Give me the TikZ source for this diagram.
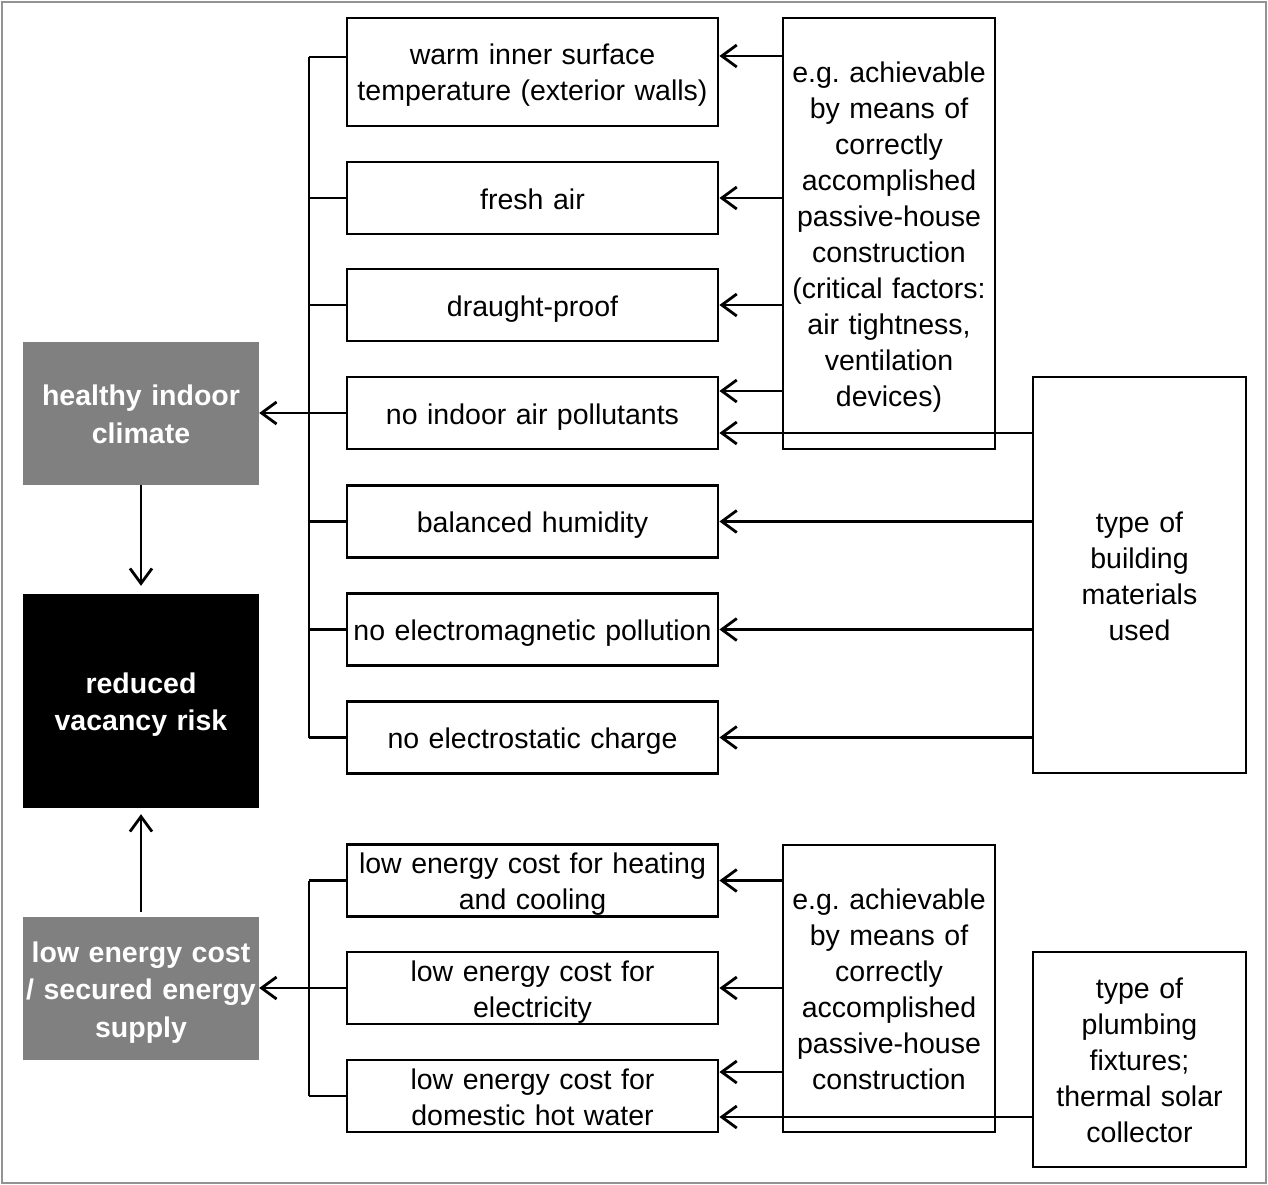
\documentclass[tikz,border=0pt]{standalone}
\usepackage{fontspec}
\setmainfont{Liberation Sans}
\frenchspacing
\usetikzlibrary{arrows.meta, positioning}

\tikzset{
    line/.style={line width=2.8pt},
    arr/.style={line, -{Straight Barb[length=15pt,width=22pt]}},
    struts/.style={execute at begin node={\rule{0pt}{28pt}}, execute at end node={\rule[-6pt]{0pt}{6pt}}},
    txt/.style={struts, font=\fontsize{28.5}{36}\selectfont},
    mid/.style={draw, line, txt, minimum width=371pt, text width=369pt, minimum height=#1, inner sep=0pt, align=center},
    side/.style={draw, line, txt, minimum width=212pt, text width=210pt, minimum height=#1, inner sep=0pt, align=center},
    goal/.style={fill=#1, text=white, struts, minimum width=236pt, text width=234pt, inner sep=0pt, align=center,
        font=\fontsize{28.5}{37.5}\selectfont\bfseries},
}

\begin{document}
\begin{tikzpicture}[x=1pt, y=-1pt]
            \useasboundingbox (0,0) rectangle (1268,1185);
            \draw[gray!85, line width=2pt] (1.5,2) rectangle (1266,1183);

            % goals on the left
            \node[goal=gray, minimum height=143pt] (healthy) at (141,413.5) {healthy indoor\\climate};
            \node[goal=black, minimum height=214pt] (reduced) at (141,701) {reduced\\vacancy risk};
            \node[goal=gray, minimum height=143pt] (cost) at (141,988.5) {low energy cost\\/ secured energy\\supply};

            % requirements
            \node[mid=108pt] (warm) at (532.5,72) {warm inner surface\\temperature (exterior walls)};
            \node[mid=72pt] (fresh) at (532.5,198) {fresh air};
            \node[mid=72pt] (draught) at (532.5,305) {draught-proof};
            \node[mid=72pt] (indoor) at (532.5,413) {no indoor air pollutants};
            \node[mid=72pt] (humid) at (532.5,521.5) {balanced humidity};
            \node[mid=72pt] (emag) at (532.5,629.5) {no electromagnetic pollution};
            \node[mid=72pt] (estat) at (532.5,737.5) {no electrostatic charge};
            \node[mid=72pt] (heat) at (532.5,880.5) {low energy cost for heating\\and cooling};
            \node[mid=72pt] (elec) at (532.5,988) {low energy cost for\\electricity};
            \node[mid=72pt] (dhw) at (532.5,1096) {low energy cost for\\domestic hot water};

            % means
            \node[side=431pt] (means) at (889,233.5) {e.g. achievable\\by means of\\correctly\\accomplished\\passive-house\\construction\\(critical factors:\\air tightness,\\ventilation\\devices)};
            \node[side=287pt] (means2) at (889,988.5) {e.g. achievable\\by means of\\correctly\\accomplished\\passive-house\\construction};
            \node[side=396pt, minimum width=213pt] (matter) at (1139.5,575) {type of\\building\\materials\\used};
            \node[side=215pt, minimum width=213pt] (plumb) at (1139.5,1059.5) {type of\\plumbing\\fixtures;\\thermal solar\\collector};

            % upper bracket
            \coordinate (spine) at (309,57);
            \draw[line] (spine) -- (spine -| warm.west);
            \foreach \n in {fresh,draught,indoor,humid,emag,estat}
                \draw[line] (\n.west) -- (\n.west -| spine);
            \draw[line] (spine) -- (spine |- estat.west);
            \draw[arr] (indoor.west) -- (indoor.west -| healthy.east);

            % lower bracket
            \foreach \n in {heat,elec,dhw}
                \draw[line] (\n.west) -- (\n.west -| spine);
            \draw[line] (spine |- heat.west) -- (spine |- dhw.west);
            \draw[arr] (elec.west) -- (elec.west -| cost.east);

            % upper inputs
            \coordinate (warmin) at ([yshift=16pt]warm.east);
            \coordinate (indhi) at ([yshift=22pt]indoor.east);
            \coordinate (indlo) at ([yshift=-20pt]indoor.east);
            \draw[arr] (warmin -| means.west) -- (warmin);
            \foreach \n in {fresh,draught}
                \draw[arr] (\n.east -| means.west) -- (\n.east);
            \draw[arr] (indhi -| means.west) -- (indhi);
            \draw[arr] (indlo -| matter.west) -- (indlo);
            \foreach \n in {humid,emag,estat}
                \draw[arr] (\n.east -| matter.west) -- (\n.east);

            % lower inputs
            \coordinate (dhwhi) at ([yshift=24pt]dhw.east);
            \coordinate (dhwlo) at ([yshift=-21pt]dhw.east);
            \foreach \n in {heat,elec}
                \draw[arr] (\n.east -| means2.west) -- (\n.east);
            \draw[arr] (dhwhi -| means2.west) -- (dhwhi);
            \draw[arr] (dhwlo -| plumb.west) -- (dhwlo);

            % into the vacancy risk
            \draw[arr, shorten >=8pt] (healthy) -- (reduced);
            \draw[arr, shorten <=5pt, shorten >=6pt] (cost) -- (reduced);
        \end{tikzpicture}
\end{document}
